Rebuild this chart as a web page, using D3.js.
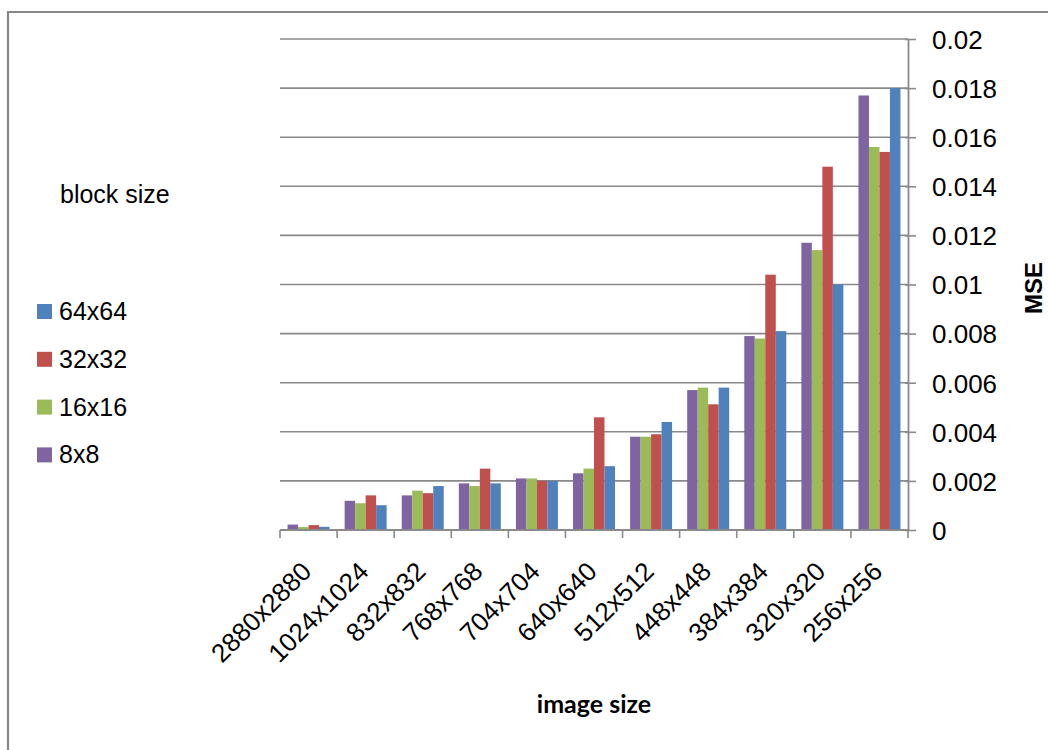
<!DOCTYPE html>
<html><head><meta charset="utf-8">
<script src="https://cdn.jsdelivr.net/npm/d3@7"></script>
<style>body{margin:0;background:#fff}svg{display:block}</style>
</head><body>
<script>
const categories = ["2880x2880","1024x1024","832x832","768x768","704x704","640x640","512x512","448x448","384x384","320x320","256x256"];
const seriesNames = ["8x8","16x16","32x32","64x64"];
const s8x8   = [0.00022,0.00119,0.00141,0.0019,0.0021,0.00231,0.0038,0.0057,0.0079,0.0117,0.0177];
const s16x16 = [0.00012,0.00109,0.0016,0.00179,0.0021,0.0025,0.0038,0.0058,0.0078,0.0114,0.0156];
const s32x32 = [0.0002,0.00141,0.0015,0.0025,0.002,0.00459,0.0039,0.00512,0.0104,0.0148,0.0154];
const s64x64 = [0.00013,0.00101,0.00179,0.0019,0.002,0.0026,0.0044,0.0058,0.0081,0.01,0.018];
const yTicks = [0,0.002,0.004,0.006,0.008,0.01,0.012,0.014,0.016,0.018,0.02];
const colors = ["#8064A2","#9BBB59","#C0504D","#4F81BD"];
const seriesValues = [s8x8,s16x16,s32x32,s64x64];
const legendOrder = ["64x64","32x32","16x16","8x8"];

const W=1048,H=750;
const svg=d3.select("body").append("svg").attr("width",W).attr("height",H);
const font="'Liberation Sans', Arial, sans-serif";

// outer frame
svg.append("path").attr("d","M8,"+H+" V12 H"+W).attr("fill","none").attr("stroke","#878787").attr("stroke-width",2.2);

const x=d3.scaleBand().domain(categories).range([280,908]).paddingInner(0).paddingOuter(0);
const xs=d3.scaleBand().domain(seriesNames).range([0,x.bandwidth()]).paddingInner(0).paddingOuter(0.72);
const y=d3.scaleLinear().domain([0,0.02]).range([530,39]);

// gridlines
svg.append("g").selectAll("line").data(yTicks.slice(1)).join("line")
  .attr("x1",280).attr("x2",908).attr("y1",d=>y(d)).attr("y2",d=>y(d))
  .attr("stroke","#8a8a8a").attr("stroke-width",1.6);

// bars
const data=[];
categories.forEach((c,i)=>seriesNames.forEach((s,j)=>data.push({c,s,v:seriesValues[j][i],col:colors[j]})));
svg.append("g").selectAll("rect").data(data).join("rect")
  .attr("x",d=>x(d.c)+xs(d.s)).attr("width",xs.bandwidth())
  .attr("y",d=>y(d.v)).attr("height",d=>y(0)-y(d.v))
  .attr("fill",d=>d.col);

// right y axis
const ya=svg.append("g").attr("transform","translate(908,0)")
  .call(d3.axisRight(y).tickValues(yTicks).tickFormat(d=>d===0?"0":String(+d.toFixed(3))).tickSize(8).tickSizeOuter(0).tickPadding(16));
ya.select(".domain").attr("stroke","#8a8a8a").attr("stroke-width",1.8);
ya.selectAll(".tick line").attr("stroke","#8a8a8a").attr("stroke-width",1.6).attr("x1",-3);
ya.selectAll(".tick text").attr("font-family",font).attr("font-size",26).attr("fill","#000").attr("dy","0.36em");

// bottom x axis
svg.append("line").attr("x1",280).attr("x2",908).attr("y1",530).attr("y2",530).attr("stroke","#8a8a8a").attr("stroke-width",1.8);
const bounds=categories.map(c=>x(c)).concat([908]);
svg.append("g").selectAll("line").data(bounds).join("line")
  .attr("x1",d=>d).attr("x2",d=>d).attr("y1",530).attr("y2",538)
  .attr("stroke","#8a8a8a").attr("stroke-width",1.6);
svg.append("g").selectAll("text").data(categories).join("text")
  .attr("transform",d=>`translate(${x(d)+x.bandwidth()/2+4.5},573) rotate(-45)`)
  .attr("text-anchor","end").attr("font-family",font).attr("font-size",26).attr("fill","#000")
  .text(d=>d);

// axis titles
svg.append("text").attr("x",594).attr("y",713).attr("text-anchor","middle")
  .attr("font-family","Lato, 'Open Sans', sans-serif").attr("font-weight","bold").attr("font-size",25)
  .attr("fill","#000").text("image size");
svg.append("text").attr("transform","translate(1042,288) rotate(-90)").attr("text-anchor","middle")
  .attr("font-family",font).attr("font-weight","bold").attr("font-size",24)
  .attr("fill","#000").text("MSE");

// legend
svg.append("text").attr("x",60).attr("y",203).attr("font-family",font).attr("font-size",25).attr("fill","#000").text("block size");
const lg=svg.append("g").selectAll("g").data(legendOrder).join("g")
  .attr("transform",(d,i)=>`translate(37,${320+i*47.8})`);
lg.append("rect").attr("x",0).attr("y",-16).attr("width",15).attr("height",15)
  .attr("fill",d=>colors[seriesNames.indexOf(d)]);
lg.append("text").attr("x",22).attr("y",0).attr("font-family",font).attr("font-size",25).attr("fill","#000").text(d=>d);
</script>
</body></html>
